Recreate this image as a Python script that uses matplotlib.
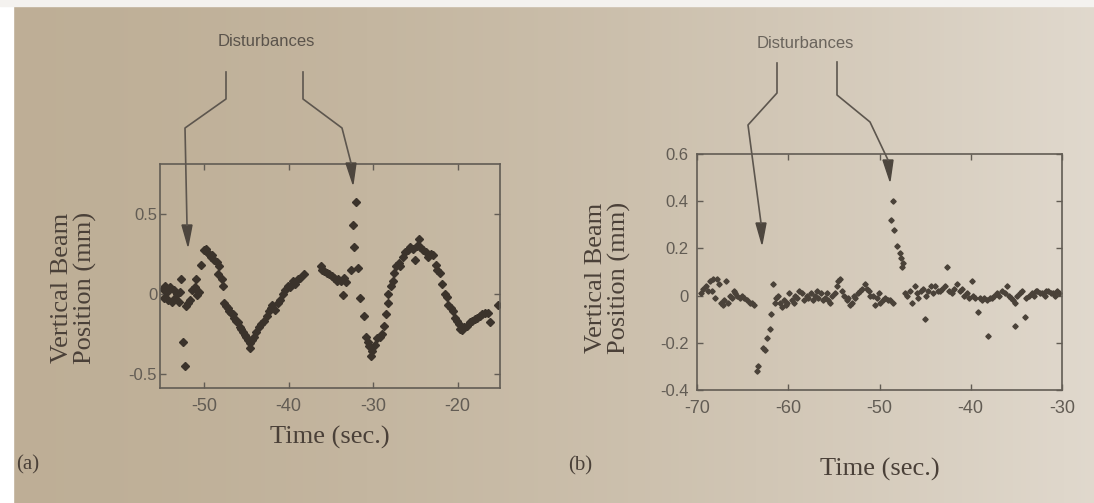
import numpy as np
import matplotlib
matplotlib.use("Agg")
import matplotlib.pyplot as plt
from matplotlib.lines import Line2D
from matplotlib.patches import Rectangle

plt.rcParams["axes.unicode_minus"] = False

W, H = 1094, 503

# ---- panel (a) data: time (s) / vertical beam position (mm)
a_time = [-54.9, -54.7, -54.6, -54.4, -54.2, -54.0, -53.8, -53.6, -53.4, -53.2,
          -53.0, -52.8, -52.7, -52.5, -52.3, -52.1, -51.9, -51.7, -51.4, -51.1,
          -50.9, -50.8, -50.6, -50.3, -50.0, -49.8, -49.6, -49.4, -49.2, -49.0,
          -48.8, -48.5, -48.4, -48.2, -47.9, -47.8, -47.6, -47.4, -47.2, -47.0,
          -46.8, -46.6, -46.4, -46.2, -46.0, -45.8, -45.6, -45.4, -45.2, -45.0,
          -44.8, -44.6, -44.5, -44.3, -44.1, -43.8, -43.5, -43.2, -42.9, -42.6,
          -42.3, -42.1, -41.9, -41.6, -41.3, -41.0, -40.7, -40.4, -40.1, -39.8,
          -39.5, -39.2, -38.9, -38.6, -38.2, -36.2, -36.0, -35.8, -35.5, -35.2,
          -34.9, -34.6, -34.3, -34.1, -33.8, -33.6, -33.5, -33.2, -32.6, -32.4,
          -32.3, -32.0, -31.8, -31.5, -31.1, -30.8, -30.6, -30.5, -30.3, -30.1,
          -29.8, -29.5, -29.2, -28.9, -28.7, -28.5, -28.3, -28.2, -27.9, -27.7,
          -27.5, -27.3, -27.0, -26.8, -26.5, -26.2, -25.9, -25.6, -25.3, -25.0,
          -24.8, -24.6, -24.4, -24.1, -23.8, -23.5, -23.2, -22.9, -22.6, -22.4,
          -22.1, -21.8, -21.5, -21.3, -21.1, -20.8, -20.6, -20.3, -20.1, -19.9,
          -19.7, -19.5, -19.2, -18.9, -18.6, -18.3, -18.0, -17.7, -17.4, -17.1,
          -16.8, -16.4, -16.2, -15.2]
a_pos = [0.03, -0.03, 0.05, 0.01, -0.04, 0.04, -0.05, 0.02, -0.03, 0.00,
         -0.05, 0.01, 0.09, -0.30, -0.45, -0.08, -0.06, -0.04, 0.02, 0.04,
         0.09, -0.01, 0.01, 0.18, 0.27, 0.28, 0.26, 0.25, 0.23, 0.24,
         0.21, 0.20, 0.12, 0.17, 0.09, 0.05, -0.06, -0.08, -0.09, -0.11,
         -0.12, -0.13, -0.15, -0.17, -0.18, -0.21, -0.22, -0.24, -0.26, -0.27,
         -0.29, -0.31, -0.34, -0.29, -0.27, -0.24, -0.21, -0.19, -0.17, -0.14,
         -0.11, -0.09, -0.07, -0.10, -0.06, -0.04, 0.00, 0.02, 0.05, 0.04,
         0.08, 0.06, 0.09, 0.10, 0.12, 0.17, 0.15, 0.14, 0.13, 0.12,
         0.11, 0.10, 0.08, 0.09, 0.08, -0.01, 0.10, 0.07, 0.15, 0.43,
         0.29, 0.57, 0.16, -0.03, -0.14, -0.27, -0.30, -0.33, -0.39, -0.36,
         -0.32, -0.28, -0.27, -0.25, -0.20, -0.13, -0.06, 0.00, 0.05, 0.08,
         0.13, 0.17, 0.19, 0.17, 0.23, 0.26, 0.27, 0.29, 0.28, 0.21,
         0.30, 0.34, 0.29, 0.27, 0.26, 0.23, 0.25, 0.24, 0.18, 0.15,
         0.13, 0.06, 0.00, -0.02, -0.07, -0.09, -0.11, -0.15, -0.17, -0.19,
         -0.22, -0.23, -0.21, -0.20, -0.18, -0.17, -0.16, -0.15, -0.14, -0.13,
         -0.12, -0.12, -0.18, -0.07]

# ---- panel (b) data
b_time = [-69.6, -69.3, -69.0, -68.8, -68.6, -68.4, -68.2, -68.0, -67.8, -67.6,
          -67.4, -67.2, -67.0, -66.8, -66.6, -66.4, -66.2, -66.0, -65.8, -65.6,
          -65.3, -65.1, -64.8, -64.5, -64.2, -64.0, -63.7, -63.4, -63.3, -62.8,
          -62.6, -62.3, -62.0, -61.9, -61.7, -61.5, -61.3, -61.1, -60.9, -60.7,
          -60.5, -60.3, -60.1, -59.9, -59.6, -59.4, -59.3, -59.0, -58.8, -58.5,
          -58.3, -58.0, -57.8, -57.5, -57.3, -57.1, -56.9, -56.7, -56.4, -56.2,
          -56.0, -55.8, -55.6, -55.4, -55.2, -54.9, -54.7, -54.5, -54.3, -54.1,
          -53.9, -53.6, -53.4, -53.2, -53.0, -52.8, -52.7, -52.4, -52.1, -51.9,
          -51.6, -51.4, -51.2, -51.0, -50.7, -50.5, -50.3, -50.1, -49.9, -49.6,
          -49.4, -49.1, -48.8, -48.5, -48.7, -48.5, -48.4, -48.1, -47.8, -47.6,
          -47.5, -47.4, -47.2, -47.0, -46.7, -46.4, -46.1, -45.9, -45.8, -45.5,
          -45.2, -45.0, -44.9, -44.7, -44.4, -44.1, -43.9, -43.6, -43.4, -43.1,
          -42.8, -42.6, -42.4, -42.1, -41.8, -41.5, -41.2, -41.0, -40.7, -40.4,
          -40.2, -39.9, -39.7, -39.5, -39.2, -39.0, -38.8, -38.5, -38.2, -38.1,
          -37.9, -37.7, -37.4, -37.1, -36.9, -36.6, -36.3, -36.0, -35.8, -35.6,
          -35.4, -35.2, -35.1, -34.9, -34.6, -34.4, -34.1, -33.9, -33.6, -33.3,
          -33.1, -32.9, -32.7, -32.4, -32.2, -31.9, -31.7, -31.5, -31.2, -31.0,
          -30.8, -30.5, -30.3]
b_pos = [0.01, 0.03, 0.04, 0.02, 0.06, 0.02, 0.07, -0.01, 0.07, 0.05,
         -0.03, -0.04, -0.02, 0.06, -0.03, 0.00, -0.01, 0.02, 0.01, 0.00,
         -0.01, 0.00, -0.01, -0.02, -0.03, -0.03, -0.04, -0.32, -0.30, -0.22,
         -0.23, -0.18, -0.14, -0.08, 0.05, -0.03, -0.01, 0.00, -0.03, -0.05,
         -0.02, -0.04, -0.03, 0.01, -0.02, -0.03, 0.00, -0.01, 0.02, 0.01,
         -0.02, 0.00, -0.01, 0.01, -0.02, 0.00, 0.02, -0.01, 0.01, -0.02,
         -0.01, 0.01, -0.02, -0.03, 0.00, 0.01, 0.04, 0.06, 0.07, 0.02,
         0.00, -0.02, -0.01, -0.04, -0.03, 0.00, -0.01, 0.01, 0.02, 0.03,
         0.05, 0.03, 0.02, 0.00, 0.00, -0.04, -0.01, 0.01, -0.03, -0.02,
         -0.01, -0.02, -0.02, -0.03, 0.32, 0.40, 0.28, 0.21, 0.18, 0.16,
         0.12, 0.14, 0.01, 0.00, 0.02, -0.03, 0.04, 0.01, -0.01, 0.02,
         0.03, -0.10, 0.00, 0.02, 0.04, 0.01, 0.04, 0.02, 0.02, 0.03,
         0.04, 0.12, 0.02, 0.01, 0.03, 0.05, 0.02, 0.03, 0.00, 0.01,
         -0.01, 0.06, 0.00, -0.01, -0.07, -0.01, -0.02, -0.01, -0.02, -0.17,
         -0.01, -0.01, 0.00, 0.01, 0.00, 0.02, 0.01, 0.04, 0.00, -0.01,
         -0.02, -0.03, -0.13, 0.00, 0.01, 0.02, -0.09, -0.01, 0.00, 0.01,
         0.00, 0.02, 0.02, 0.01, 0.01, 0.00, 0.02, 0.02, 0.01, 0.01,
         0.00, 0.02, 0.01]

a_xticks = [-50, -40, -30, -20]
a_yticks = [-0.5, 0, 0.5]
a_yticklabels = ["-0.5", "0", "0.5"]
b_xticks = [-70, -60, -50, -40, -30]
b_yticks = [-0.4, -0.2, 0, 0.2, 0.4, 0.6]
b_yticklabels = ["-0.4", "-0.2", "0", "0.2", "0.4", "0.6"]

INK = "#3b332b"
GREY = "#625c54"
SERIF = "Liberation Serif"
NARROW = ["Liberation Sans Narrow", "Liberation Sans"]


def px(x, y):
    return x / W, 1 - y / H


fig = plt.figure(figsize=(W / 100, H / 100), dpi=100)

# paper background (photo of a book page)
bg = fig.add_axes([0, 0, 1, 1], zorder=-10)
grad = np.linspace(0, 1, 256)
c_left = np.array([0.745, 0.685, 0.590])
c_right = np.array([0.880, 0.850, 0.805])
img = (c_left[None, :] * (1 - grad[:, None] ** 1.6) + c_right[None, :] * grad[:, None] ** 1.6)
bg.imshow(img[None, :, :], aspect="auto", extent=[0, 1, 0, 1])
bg.add_patch(Rectangle((0, 0), 13 / W, 1, color="white", transform=bg.transAxes))
bg.add_patch(Rectangle((0, 1 - 6 / H), 1, 6 / H, color="#f4f2ef", transform=bg.transAxes))
bg.set_xlim(0, 1); bg.set_ylim(0, 1)
bg.axis("off")


def style(ax, xticks, yticks, ylabels, ypad):
    ax.set_facecolor("none")
    for s in ax.spines.values():
        s.set_color(GREY); s.set_linewidth(1.2)
    ax.tick_params(direction="in", top=True, right=True, length=4, width=1, color=GREY,
                   labelcolor=GREY)
    ax.tick_params(axis="y", pad=ypad, labelsize=12)
    ax.tick_params(axis="x", pad=7)
    ax.set_xticks(xticks)
    ax.set_xticklabels([str(t) for t in xticks], family=NARROW, fontsize=13)
    ax.set_yticks(yticks)
    ax.set_yticklabels(ylabels, family="Liberation Sans", fontsize=12)


# (a)
ax1 = fig.add_axes([160 / W, 1 - 388 / H, 340 / W, 224 / H])
ax1.plot(a_time, a_pos, ls="none", marker="D", ms=3.6, color=INK, mec=INK)
ax1.set_xlim(-55.2, -15.0)
ax1.set_ylim(-0.59, 0.81)
style(ax1, a_xticks, a_yticks, a_yticklabels, 2)

# (b)
ax2 = fig.add_axes([697 / W, 1 - 390 / H, 365 / W, 236 / H])
ax2.plot(b_time, b_pos, ls="none", marker="D", ms=2.7, color="#4a4239", mec="#4a4239")
ax2.set_xlim(-70, -30)
ax2.set_ylim(-0.4, 0.6)
style(ax2, b_xticks, b_yticks, b_yticklabels, 6)

# axis labels and panel tags
lab = dict(family=SERIF, color="#4a4038", fontsize=19)
fig.text(*px(74, 288), "Vertical Beam\nPosition (mm)", rotation=90, ha="center",
         va="center", multialignment="center", linespacing=1.0, **lab)
fig.text(*px(608, 278), "Vertical Beam\nPosition (mm)", rotation=90, ha="center",
         va="center", multialignment="center", linespacing=1.0, **lab)
fig.text(*px(330, 437), "Time (sec.)", ha="center", va="center", **lab)
fig.text(*px(880, 469), "Time (sec.)", ha="center", va="center", **lab)
fig.text(*px(28, 465), "(a)", ha="center", va="center", family=SERIF, fontsize=15, color="#4a4038")
fig.text(*px(580, 466), "(b)", ha="center", va="center", family=SERIF, fontsize=15, color="#4a4038")

# "Disturbances" callouts
fig.text(*px(266, 42), "Disturbances", ha="center", va="center", family="Liberation Sans",
         fontsize=12, color="#5a534b")
fig.text(*px(805, 43), "Disturbances", ha="center", va="center", family="Liberation Sans",
         fontsize=12, color="#6a645c")

callouts = [
    [(226, 72), (226, 99), (185, 128), (187, 225), (188, 246)],
    [(303, 72), (303, 99), (342, 128), (351, 163), (353, 184)],
    [(777, 63), (777, 93), (748, 125), (761, 223), (762, 244)],
    [(837, 62), (837, 95), (870, 122), (888, 160), (890, 181)],
]
for pts in callouts:
    xs = [px(x, y)[0] for x, y in pts[:-1]]
    ys = [px(x, y)[1] for x, y in pts[:-1]]
    fig.add_artist(Line2D(xs, ys, transform=fig.transFigure, color="#5d564e", lw=1.2))
    fig.add_artist(plt.Polygon([px(pts[-2][0] - 5, pts[-2][1]), px(pts[-2][0] + 5, pts[-2][1]),
                                px(*pts[-1])], closed=True, transform=fig.transFigure,
                               color="#4d463e"))

fig.savefig("out.png", dpi=100)
